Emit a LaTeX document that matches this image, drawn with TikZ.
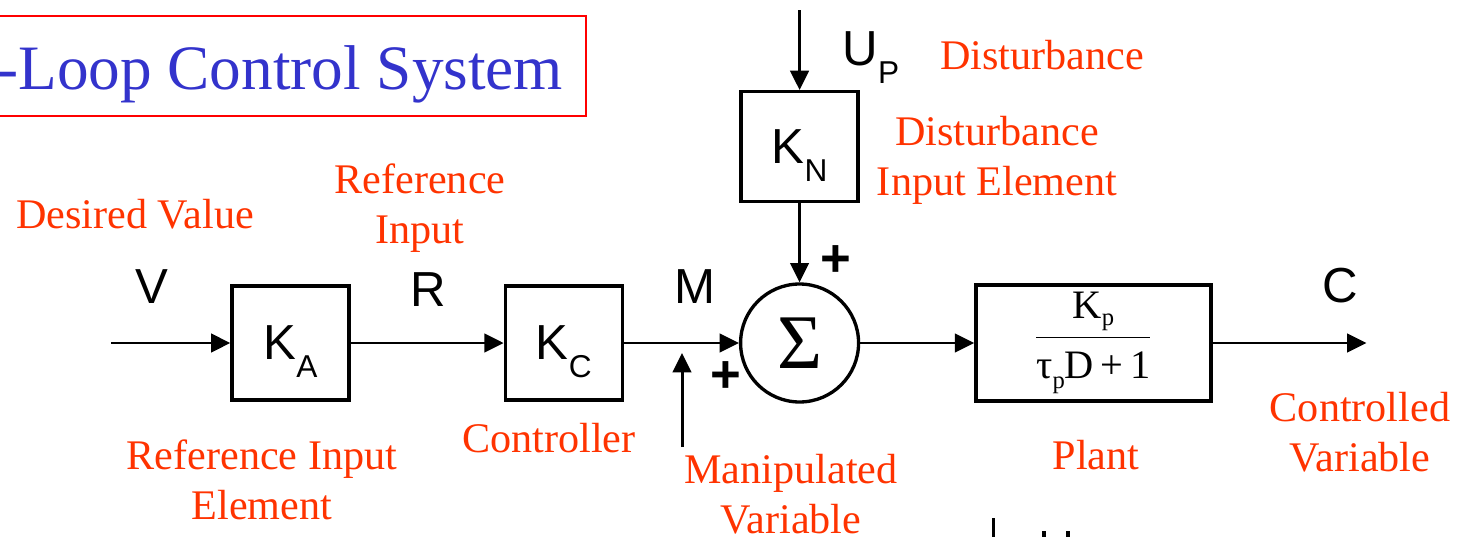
\documentclass[tikz,border=0pt]{standalone}
\usepackage{fontspec}
\setmainfont{Liberation Serif}
\setsansfont{Liberation Sans}
\usepackage{xcolor}
\usetikzlibrary{arrows.meta,positioning}

\definecolor{labelred}{RGB}{255,51,0}
\definecolor{titleblue}{RGB}{51,51,204}
% gain symbol with a lowered index
\newcommand{\gain}[2]{\sffamily\fontsize{28}{28}\selectfont #1\raisebox{-10pt}[0pt][0pt]{\fontsize{18}{18}\selectfont #2}}

\begin{document}
\begin{tikzpicture}[
    x=0.02cm, y=-0.02cm,
    block/.style={draw, line width=1.9pt, minimum width=2.34cm, minimum height=2.28cm, inner sep=0pt},
    sumnode/.style={draw, circle, line width=1.9pt, minimum size=2.36cm, inner sep=0pt},
    lbl/.style={text=labelred, align=center, font=\fontsize{24}{28.5}\selectfont},
    sig/.style={font=\sffamily\fontsize{28}{28}\selectfont},
    plus/.style={font=\sffamily\bfseries\fontsize{30}{30}\selectfont},
    line/.style={-{Triangle[length=11pt,width=10.5pt]}, line width=1.7pt}
]
\useasboundingbox (0,0) rectangle (1466,537);

% title
\draw[red, line width=1.3pt] (-20,16) rectangle (586,116);
\node[text=titleblue, font=\fontsize{36}{36}\selectfont, anchor=base west, inner sep=0pt] (title) at (-3,90) {-Loop Control System};

% blocks
\node[block] (ka) at (290.5,343) {\gain{K}{A}};
\node[block, right=3.06cm of ka] (kc) {\gain{K}{C}};
\node[sumnode, right=2.30cm of kc] (sum) {\fontsize{44}{44}\selectfont Σ};
\node[block, minimum width=4.7cm, minimum height=2.32cm, right=2.28cm of sum] (plant)
    {\fontsize{23}{25}\selectfont$\displaystyle\frac{\mbox{K\raisebox{-4pt}{\fontsize{14}{14}\selectfont p}}}{\mbox{τ\raisebox{-6pt}{\fontsize{14}{14}\selectfont p}D\,+\,1}}$};
\node[block, minimum height=2.2cm, above=1.58cm of sum] (kn) {\gain{K}{N}};

\coordinate[left=2.38cm of ka] (vin);
\coordinate[right=3.08cm of plant] (cout);
\coordinate[above=1.6cm of kn] (uin);
\coordinate (mtail) at (682,447);
\coordinate (mtip) at (682,353);

\draw[line] (vin) -- (ka);
\draw[line] (ka) -- (kc);
\draw[line] (kc) -- (sum);
\draw[line] (sum) -- (plant);
\draw[line] (plant) -- (cout);
\draw[line] (uin) -- (kn);
\draw[line] (kn) -- (sum);
\draw[line] (mtail) -- (mtip);

% signals
\node[sig] (v) at (152,287) {V};
\node[sig] (r) at (428,290) {R};
\node[sig] (m) at (695,287) {M};
\node[sig] (c) at (1340,286) {C};
\node (up) at (871,49) {\gain{U}{P}};
\node[plus] (plus1) at (836,261) {+};
\node[plus] (plus2) at (726,377) {+};

% descriptions
\node[lbl] (desired) at (135,214) {Desired Value};
\node[lbl] (refin) at (420,208) {Reference\\Input};
\node[lbl] (dist) at (1042,55) {Disturbance};
\node[lbl] (distel) at (997,160) {Disturbance\\Input Element};
\node[lbl] (refel) at (262,480) {Reference Input\\Element};
\node[lbl] (ctrl) at (549,438) {Controller};
\node[lbl] (manip) at (791,494) {Manipulated\\Variable};
\node[lbl] (plantlbl) at (1096,455) {Plant};
\node[lbl] (cvar) at (1360,432) {Controlled\\Variable};

% cut-off rest at the bottom edge
\coordinate (stub) at (993,518);
\draw[line width=1.7pt] (stub) -- ++(0,25);
\fill (1042,531) rectangle (1046,540);
\fill (1066,531) rectangle (1070,540);
\end{tikzpicture}
\end{document}
